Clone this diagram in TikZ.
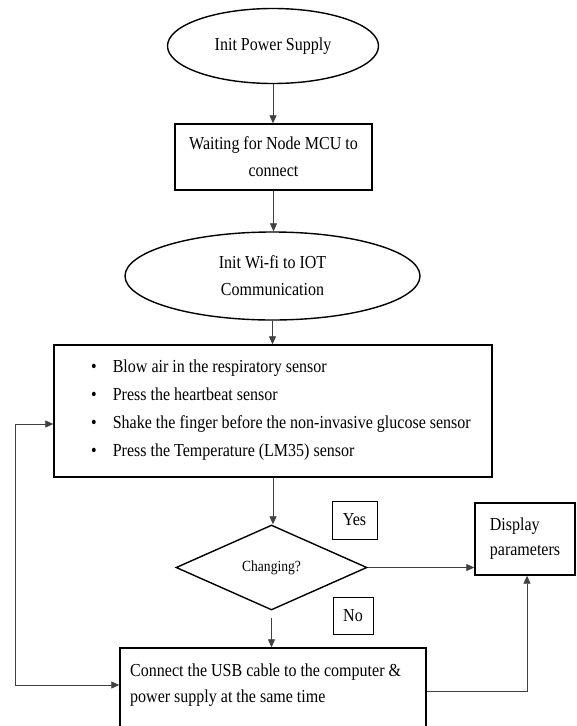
\documentclass[tikz,border=0pt]{standalone}
\usepackage{fontspec}
\setmainfont{Liberation Serif}[FakeStretch=0.875]
\usetikzlibrary{shapes.geometric,arrows.meta}
\begin{document}
\begin{tikzpicture}[x=1pt,y=-1pt,
  every node/.style={font=\fontsize{18.3}{27}\selectfont, inner sep=0pt},
  shapeline/.style={draw=black, line width=1.4pt},
  oval/.style={shapeline, ellipse},
  boxnode/.style={shapeline, rectangle},
  tag/.style={draw=black, line width=0.7pt, rectangle},
  conn/.style={draw=black!75, line width=0.8pt},
  arr/.style={conn, -{Triangle[length=8pt,width=7pt]}},
  txt/.style={align=left, anchor=west}
]
\useasboundingbox (0,0) rectangle (576,726);
\clip (0,0) rectangle (576,726);
\fill[white] (0,0) rectangle (576,726);

\node[oval, minimum width=211pt, minimum height=75pt] (e1) at (273,46) {Init Power Supply};
\node[boxnode, minimum width=197pt, minimum height=66pt, align=center] (b2) at (273.5,157) {Waiting for Node MCU to\\connect};
\node[oval, minimum width=295pt, minimum height=88pt, align=center] (e3) at (272.5,276) {Init Wi-fi to IOT\\Communication};
\node[boxnode, minimum width=438pt, minimum height=132pt] (b4) at (273,411) {};
\node[txt, font=\fontsize{18.3}{28}\selectfont] (b4t) at (91,410) {\textbullet\hspace{16pt}Blow air in the respiratory sensor\\
\textbullet\hspace{16pt}Press the heartbeat sensor\\
\textbullet\hspace{16pt}Shake the finger before the non-invasive glucose sensor\\
\textbullet\hspace{16pt}Press the Temperature (LM35) sensor};
\node[shapeline, diamond, minimum width=191pt, minimum height=85pt, font=\fontsize{15.5}{18}\selectfont] (d) at (271.5,567.5) {Changing?};
\node[tag, minimum width=45pt, minimum height=38pt] (yes) at (354.5,520) {Yes};
\node[tag, minimum width=40pt, minimum height=37pt] (no) at (353,615.5) {No};
\node[boxnode, minimum width=100pt, minimum height=72pt, align=left, font=\fontsize{18.3}{25}\selectfont] (disp) at (525,539) {Display\\parameters};
\node[boxnode, minimum width=306pt, minimum height=86pt] (b5) at (273,691) {};
\node[txt, font=\fontsize{18.3}{26}\selectfont] (b5t) at (130,685) {Connect the USB cable to the computer \&\\power supply at the same time};

\coordinate (lt) at (15,424);
\coordinate (lb) at (15,685);
\coordinate (rc) at (527,691);

\draw[arr] (e1.south) -- (e1.south |- b2.north);
\draw[arr] (b2.south) -- (b2.south |- e3.north);
\draw[arr] (e3.south) -- (e3.south |- b4.north);
\draw[arr] (b4.south) -- (b4.south |- d.north);
\draw[arr, shorten <=7pt] (d.south) -- (d.south |- b5.north);
\draw[arr] (d.east) -- (d.east -| disp.west);
\draw[arr] (lb) -- (lt) -- (lt -| b4.west);
\draw[arr] (lb) -- (lb -| b5.west);
\draw[arr] (b5.east) -- (rc) -- (rc |- disp.south);
\end{tikzpicture}
\end{document}
